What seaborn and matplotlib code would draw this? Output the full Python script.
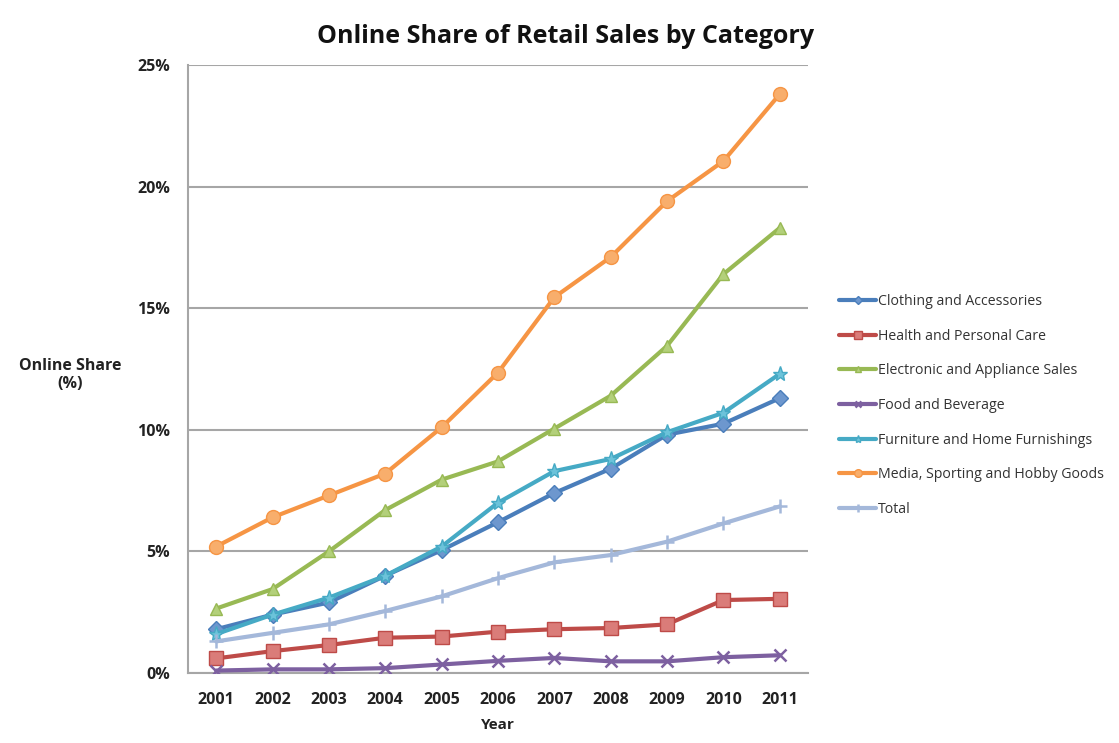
import matplotlib
matplotlib.use("Agg")
import matplotlib.pyplot as plt
import seaborn as sns
import pandas as pd
from matplotlib.ticker import FuncFormatter

years = list(range(2001, 2012))
clothing = [1.8, 2.4, 2.9, 4.0, 5.05, 6.2, 7.4, 8.4, 9.8, 10.25, 11.3]
health = [0.6, 0.9, 1.15, 1.45, 1.5, 1.7, 1.8, 1.85, 2.0, 3.0, 3.05]
electronic = [2.65, 3.45, 5.0, 6.7, 7.95, 8.7, 10.05, 11.4, 13.45, 16.4, 18.3]
food = [0.1, 0.15, 0.15, 0.2, 0.35, 0.5, 0.62, 0.48, 0.48, 0.65, 0.73]
furniture = [1.6, 2.4, 3.1, 4.0, 5.2, 7.0, 8.3, 8.8, 9.9, 10.7, 12.3]
media = [5.2, 6.4, 7.3, 8.2, 10.1, 12.35, 15.45, 17.1, 19.4, 21.05, 23.8]
total = [1.3, 1.65, 2.0, 2.55, 3.15, 3.9, 4.55, 4.85, 5.4, 6.15, 6.85]

series_names = ["Clothing and Accessories", "Health and Personal Care",
                "Electronic and Appliance Sales", "Food and Beverage",
                "Furniture and Home Furnishings", "Media, Sporting and Hobby Goods",
                "Total"]
series_values = [clothing, health, electronic, food, furniture, media, total]
colors = ["#4A7EBB", "#BE4B48", "#98B954", "#7D60A0", "#46AAC5", "#F69544", "#A4B8DA"]
face_colors = ["#6D97CE", "#DA7C79", "#B3D07A", "#9A80BC", "#6CC3DA", "#F8AE6C", "#BFD0EA"]
markers = ["D", "s", "^", "x", "*", "o", "+"]
msizes = [8, 10, 9, 9, 11, 10, 10]

sns.set_theme(style="white")
plt.rcParams['font.family'] = ['Open Sans', 'DejaVu Sans']

fig = plt.figure(figsize=(11.19, 7.43), dpi=100)
ax = fig.add_axes([0.168, 0.0942, 0.554, 0.8183])

for name, vals, c, fc, m, ms in zip(series_names, series_values, colors,
                                     face_colors, markers, msizes):
    d = pd.DataFrame({"Year": years, "Share": vals})
    sns.lineplot(data=d, x="Year", y="Share", color=c, marker=m,
                 markersize=ms, markerfacecolor=fc, markeredgecolor=c,
                 markeredgewidth=1.8 if m in ("x", "+") else 1.0,
                 linewidth=3.0, label=name, ax=ax, zorder=3)

ax.set_xlim(2000.5, 2011.5)
ax.set_ylim(0, 25)
ax.set_xticks(years)
ax.set_yticks([0, 5, 10, 15, 20, 25])
ax.yaxis.set_major_formatter(FuncFormatter(lambda v, p: f"{int(v)}%"))
ax.tick_params(axis="y", labelsize=11.5, length=0, pad=13)
ax.tick_params(axis="x", labelsize=11.5, length=0, pad=14)
for lab in ax.get_xticklabels() + ax.get_yticklabels():
    lab.set_fontweight("bold")
    lab.set_color("#222222")
ax.yaxis.grid(True, color="#A6A6A6", linewidth=1.5, zorder=0)
ax.xaxis.grid(False)
for s in ["top", "right"]:
    ax.spines[s].set_visible(False)
for s in ["left", "bottom"]:
    ax.spines[s].set_color("#A6A6A6")
    ax.spines[s].set_linewidth(1.5)

ax.set_xlabel("Year", fontsize=11, fontweight="bold", labelpad=7, color="#222222")
ax.set_ylabel("Online Share\n(%)", fontsize=11.5, fontweight="bold", rotation=0,
              va="center", ha="center", color="#222222")
ax.yaxis.set_label_coords(-0.19, 0.49)

fig.suptitle("Online Share of Retail Sales by Category", x=0.505, y=0.968,
             fontsize=18, fontweight="bold", color="#111111")

leg = ax.legend(loc="center left", bbox_to_anchor=(1.03, 0.44), frameon=False,
                fontsize=10.2, handlelength=2.6, handletextpad=0.1,
                labelspacing=1.38, markerscale=0.55)
for t in leg.get_texts():
    t.set_color("#333333")

fig.savefig("out.png", dpi=100)
